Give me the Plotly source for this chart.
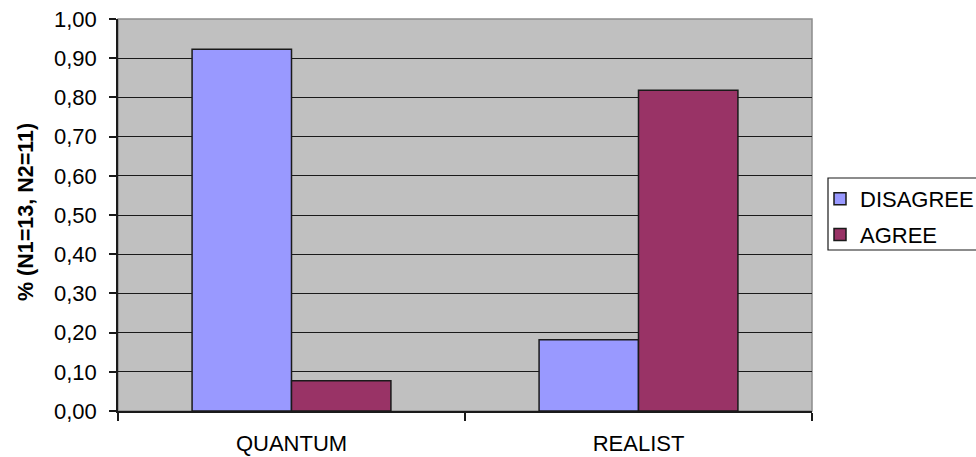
import plotly.graph_objects as go

# Share of respondents per condition
categories = ["QUANTUM", "REALIST"]
disagree = [0.923, 0.182]
agree = [0.077, 0.818]
series_names = ["DISAGREE", "AGREE"]
series_colors = ["#9999FF", "#993366"]

FONT = "Liberation Sans, Arial, sans-serif"
W, H = 976, 457
L, R, T, B = 118, 164, 19, 46
PW, PH = W - L - R, H - T - B


def px_x(x):
    return (x - L) / PW


def px_y(y):
    return (H - B - y) / PH


fig = go.Figure()
for name, vals, color in zip(series_names, [disagree, agree], series_colors):
    fig.add_trace(go.Bar(
        x=categories, y=vals, name=name, legendgroup=name,
        marker=dict(color=color, line=dict(color="#1a1a1a", width=1.5)),
    ))

# Plot area frame in grey, drawn beneath the data
fig.add_shape(type="rect", xref="paper", yref="paper", x0=0, x1=1, y0=0, y1=1,
              line=dict(color="#8c8c8c", width=1.5), layer="below")
# Legend frame
fig.add_shape(type="rect", xref="paper", yref="paper",
              x0=px_x(828), x1=px_x(985), y0=px_y(250), y1=px_y(178),
              line=dict(color="#1a1a1a", width=1.2), fillcolor="white", layer="below")

fig.add_annotation(text="<b>% (N1=13, N2=11)</b>", xref="paper", yref="paper",
                   x=px_x(26), y=px_y(212), xanchor="center", yanchor="middle",
                   textangle=-90, showarrow=False,
                   font=dict(family=FONT, size=21.5, color="black"))

fig.update_layout(
    width=W, height=H,
    margin=dict(l=L, r=R, t=T, b=B, pad=0, autoexpand=False),
    paper_bgcolor="white", plot_bgcolor="#C0C0C0",
    separators=", ",
    barmode="group", bargap=0.427, bargroupgap=0,
    font=dict(family=FONT, size=22, color="black"),
    showlegend=True,
    legend=dict(x=px_x(820), y=px_y(178), xanchor="left", yanchor="top",
                bgcolor="rgba(0,0,0,0)", borderwidth=0,
                tracegroupgap=4, font=dict(family=FONT, size=22, color="black")),
)
fig.update_yaxes(range=[0, 1], dtick=0.1, tickformat=".2f",
                 showgrid=True, gridcolor="#1a1a1a", gridwidth=1.3,
                 showline=True, linecolor="#1a1a1a", linewidth=1.5,
                 ticks="outside", ticklen=7, tickcolor="#1a1a1a", tickwidth=1.5,
                 ticklabelstandoff=8, zeroline=False, automargin=False,
                 fixedrange=True)
fig.update_xaxes(type="category", range=[-0.5, 1.5], showgrid=False,
                 showline=True, linecolor="#1a1a1a", linewidth=1.5,
                 ticks="outside", tickson="boundaries", ticklen=8,
                 tickcolor="#1a1a1a", tickwidth=1.5,
                 ticklabelstandoff=12, automargin=False, fixedrange=True)

fig.write_html("out.html")
